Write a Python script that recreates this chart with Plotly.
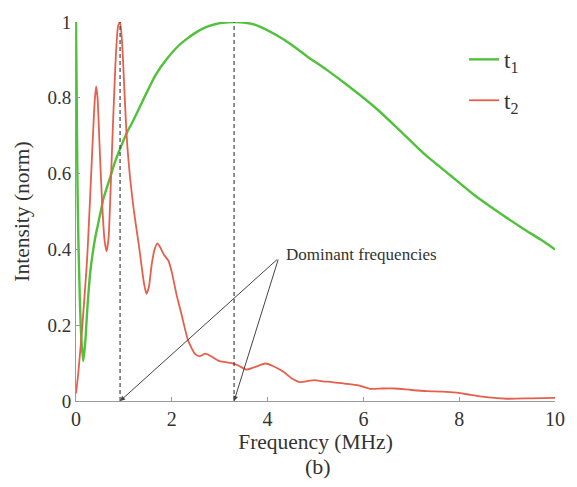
import plotly.graph_objects as go

# Normalized spectra of the two signals
t1_freq = [0, 0.015, 0.03, 0.05, 0.08, 0.11, 0.15, 0.19, 0.24, 0.30, 0.40, 0.50, 0.575,
           0.70, 0.815, 0.95, 1.07, 1.18, 1.31, 1.48, 1.66, 1.9, 2.13, 2.34, 2.5, 2.69,
           2.9, 3.06, 3.3, 3.55, 3.8, 4.19, 4.5, 4.87, 5.22, 5.7, 6.24, 6.75, 7.27, 7.8,
           8.3, 8.8, 9.32, 9.7, 10]
t1_int = [1.0, 0.8, 0.58, 0.42, 0.27, 0.17, 0.105, 0.15, 0.25, 0.343, 0.43, 0.49, 0.535,
          0.585, 0.631, 0.675, 0.71, 0.736, 0.77, 0.815, 0.86, 0.903, 0.936, 0.958, 0.972,
          0.985, 0.994, 0.998, 1.0, 0.998, 0.99, 0.965, 0.94, 0.905, 0.875, 0.83, 0.775,
          0.715, 0.652, 0.597, 0.545, 0.5, 0.456, 0.426, 0.40]

t2_freq = [0, 0.04, 0.08, 0.13, 0.18, 0.23, 0.27, 0.31, 0.35, 0.39, 0.42, 0.45, 0.49, 0.55,
           0.60, 0.64, 0.68, 0.72, 0.76, 0.80, 0.84, 0.88, 0.92, 0.96, 1.0, 1.04, 1.07,
           1.13, 1.21, 1.31, 1.42, 1.47, 1.52, 1.58, 1.64, 1.70, 1.76, 1.84, 1.93, 2.0,
           2.1, 2.2, 2.34, 2.48, 2.58, 2.7, 2.82, 3.0, 3.25, 3.4, 3.55, 3.7, 3.95, 4.1,
           4.33, 4.5, 4.67, 4.85, 4.98, 5.15, 5.35, 5.6, 5.9, 6.14, 6.4, 6.65, 7.0, 7.33,
           7.65, 7.95, 8.25, 8.56, 9.0, 9.5, 10]
t2_int = [0.02, 0.064, 0.12, 0.195, 0.28, 0.37, 0.47, 0.58, 0.69, 0.79, 0.83, 0.8, 0.68,
          0.51, 0.42, 0.395, 0.43, 0.55, 0.69, 0.82, 0.93, 0.99, 1.0, 0.95, 0.85, 0.74,
          0.675, 0.587, 0.5, 0.413, 0.31, 0.283, 0.3, 0.36, 0.40, 0.416, 0.405, 0.385,
          0.37, 0.34, 0.28, 0.23, 0.16, 0.125, 0.118, 0.125, 0.118, 0.105, 0.1, 0.093,
          0.083, 0.088, 0.099, 0.093, 0.077, 0.06, 0.05, 0.053, 0.055, 0.052, 0.05, 0.046,
          0.041, 0.032, 0.033, 0.033, 0.029, 0.026, 0.025, 0.022, 0.016, 0.01, 0.006,
          0.007, 0.008]

# Peak frequency of each spectrum (MHz)
dominant_freqs = [0.92, 3.3]
note_text = "Dominant frequencies"
note_anchor = (4.23, 0.377)

x_ticks = [0, 2, 4, 6, 8, 10]
y_ticks = [0, 0.2, 0.4, 0.6, 0.8, 1]

FONT = "Liberation Serif"
TEXT = "#333333"
GREEN = "#4fc23a"
RED = "#e5604c"
GRAY = "#444444"


def serif(size):
    return dict(family=FONT, size=size, color=TEXT)


fig = go.Figure()

fig.add_trace(go.Scatter(x=t1_freq, y=t1_int, mode="lines", name="t<sub>1</sub>",
                         line=dict(color=GREEN, width=2.4, shape="spline", smoothing=0.6),
                         legendgroup="a"))
fig.add_trace(go.Scatter(x=t2_freq, y=t2_int, mode="lines", name="t<sub>2</sub>",
                         line=dict(color=RED, width=1.8, shape="spline", smoothing=0.6),
                         legendgroup="b"))

# Dashed markers at the dominant frequencies
for f in dominant_freqs:
    fig.add_trace(go.Scatter(x=[f, f], y=[0, 1], mode="lines", showlegend=False,
                             hoverinfo="skip",
                             line=dict(color=GRAY, width=1.2, dash="4px,3px")))

annotations = []
for f in dominant_freqs:
    annotations.append(dict(x=f, y=0, xref="x", yref="y",
                            ax=note_anchor[0], ay=note_anchor[1], axref="x", ayref="y",
                            text="", showarrow=True, arrowhead=2, arrowsize=1,
                            arrowwidth=1, arrowcolor=GRAY))
annotations.append(dict(x=note_anchor[0] + 0.12, y=note_anchor[1] + 0.01, xref="x", yref="y",
                        text=note_text, showarrow=False, xanchor="left", yanchor="middle",
                        font=serif(17)))
annotations.append(dict(x=0.505, y=-0.135, xref="paper", yref="paper", text="(b)",
                        showarrow=False, xanchor="center", yanchor="top",
                        font=serif(22)))

fig.update_layout(
    width=577, height=487,
    margin=dict(l=76, r=14, t=19, b=86),
    paper_bgcolor="white", plot_bgcolor="white",
    font=serif(19),
    showlegend=True,
    legend=dict(x=0.81, y=0.958, xanchor="left", yanchor="top",
                bgcolor="rgba(0,0,0,0)", font=serif(23),
                traceorder="grouped", tracegroupgap=8, itemwidth=30),
    annotations=annotations,
    xaxis=dict(range=[0, 10], tickvals=x_ticks, ticks="inside", ticklen=4,
               tickcolor="#999999", showline=True, linecolor="#999999", linewidth=1,
               showgrid=False, zeroline=False,
               title=dict(text="Frequency (MHz)", standoff=1, font=serif(21.5)),
               tickfont=serif(20)),
    yaxis=dict(range=[0, 1], tickvals=y_ticks, ticks="inside", ticklen=4,
               tickcolor="#999999", showline=True, linecolor="#999999", linewidth=1,
               showgrid=False, zeroline=False,
               title=dict(text="Intensity (norm)", standoff=11, font=serif(21.5)),
               tickfont=serif(19)),
)

fig.write_html("out.html")
